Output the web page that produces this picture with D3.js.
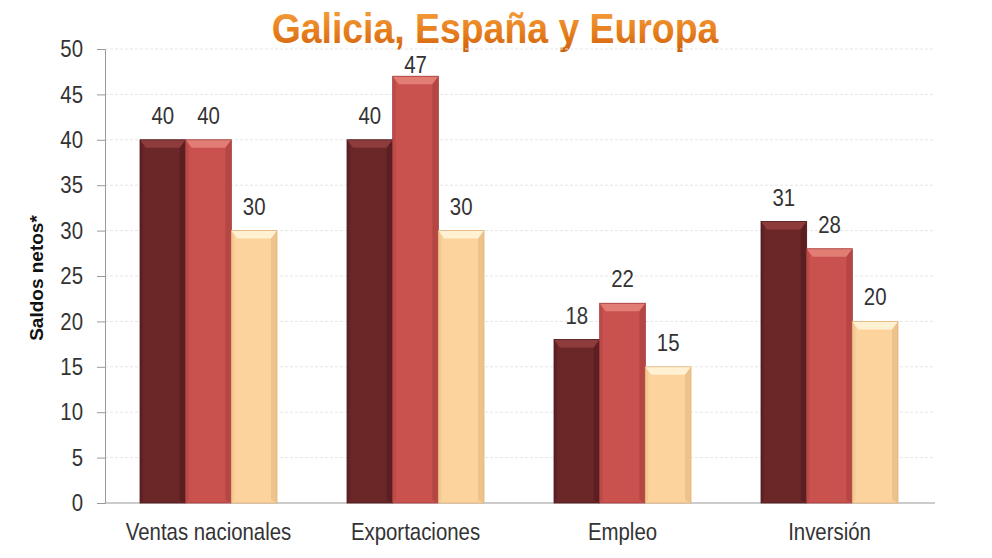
<!DOCTYPE html>
<html>
<head>
<meta charset="utf-8">
<script src="https://cdn.jsdelivr.net/npm/d3@7"></script>
<style>
  body { margin: 0; background: #fff; }
  text { font-family: "Liberation Sans", Arial, sans-serif; }
</style>
</head>
<body>
<svg width="992" height="558"></svg>
<script>
// chart data
const categories = ["Ventas nacionales", "Exportaciones", "Empleo", "Inversión"];
const seriesNames = ["Galicia", "España", "Europa"];
const galicia = [40, 40, 18, 31];
const espana = [40, 47, 22, 28];
const europa = [30, 30, 15, 20];
const yTicks = [0, 5, 10, 15, 20, 25, 30, 35, 40, 45, 50];

const colors = ["#6b2628", "#c9524f", "#fcd39d"];
const topColors = ["#8d3b3b", "#e27d74", "#fff1d2"];
const sides = ["#4e1a1c", "#a43d3b", "#e2b47c"];

const svg = d3.select("svg");
const plotLeft = 105, plotRight = 933, plotTop = 49, plotBottom = 503;
const squeeze = 0.85; // labels in the picture are horizontally compressed

const rows = categories.map((c, i) => ({cat: c, vals: [galicia[i], espana[i], europa[i]]}));

const x0 = d3.scaleBand().domain(categories).range([plotLeft, plotRight]);
const x1 = d3.scaleBand().domain(d3.range(3)).range([35, x0.bandwidth() - 35]);
const y = d3.scaleLinear().domain([0, 50]).range([plotBottom, plotTop]);

// title
const defs = svg.append("defs");
const tg = defs.append("linearGradient").attr("id", "tgrad").attr("x1", 0).attr("y1", 0).attr("x2", 0).attr("y2", 1);
tg.append("stop").attr("offset", "0%").attr("stop-color", "#f7a443");
tg.append("stop").attr("offset", "55%").attr("stop-color", "#e8801e");
tg.append("stop").attr("offset", "100%").attr("stop-color", "#cf620e");

svg.append("text")
    .attr("transform", "translate(495,43) scale(0.89,1)")
    .attr("text-anchor", "middle")
    .style("font-size", "42px").style("font-weight", "bold")
    .attr("fill", "url(#tgrad)")
    .text("Galicia, España y Europa");

// gridlines
svg.append("g").selectAll("line")
    .data(yTicks.filter(d => d > 0))
    .join("line")
    .attr("x1", plotLeft).attr("x2", plotRight + 2)
    .attr("y1", d => y(d)).attr("y2", d => y(d))
    .attr("stroke", "#e6e6e6").attr("stroke-dasharray", "3,2");

// y axis
const yAxis = svg.append("g")
    .attr("transform", `translate(${plotLeft},0)`)
    .call(d3.axisLeft(y).tickValues(yTicks).tickSize(8).tickPadding(14));
yAxis.select(".domain").attr("stroke", "#999");
yAxis.selectAll(".tick line").attr("stroke", "#999");
yAxis.selectAll(".tick text")
    .style("font-size", "24px").attr("fill", "#333")
    .attr("x", -22 / squeeze)
    .attr("transform", `scale(${squeeze},1)`);

// x baseline
svg.append("line")
    .attr("x1", plotLeft).attr("x2", plotRight + 2)
    .attr("y1", plotBottom).attr("y2", plotBottom)
    .attr("stroke", "#999");

svg.append("text")
    .attr("transform", `translate(43,278) rotate(-90)`)
    .attr("text-anchor", "middle")
    .style("font-size", "19px").style("font-weight", "bold")
    .attr("fill", "#111")
    .text("Saldos netos*");

// bars
const groups = svg.append("g").selectAll("g")
    .data(rows)
    .join("g")
    .attr("transform", d => `translate(${x0(d.cat)},0)`);

const bars = groups.selectAll("g.bar")
    .data(d => d.vals.map((v, k) => ({v, k})))
    .join("g").attr("class", "bar");

const bw = x1.bandwidth();
const bev = 6;

bars.append("rect")
    .attr("x", d => x1(d.k)).attr("y", d => y(d.v))
    .attr("width", bw).attr("height", d => plotBottom - y(d.v))
    .attr("fill", d => colors[d.k]);

// right side shade
bars.append("path")
    .attr("d", d => {
        const xa = x1(d.k) + bw, yt = y(d.v);
        return `M${xa},${yt} L${xa - bev},${yt + bev} L${xa - bev},${plotBottom - 3} L${xa},${plotBottom} Z`;
    })
    .attr("fill", d => sides[d.k]).attr("opacity", 0.55);

// left highlight
bars.append("path")
    .attr("d", d => {
        const xa = x1(d.k), yt = y(d.v);
        return `M${xa},${yt} L${xa + 3},${yt + bev} L${xa + 3},${plotBottom - 3} L${xa},${plotBottom} Z`;
    })
    .attr("fill", d => sides[d.k]).attr("opacity", 0.35);

// top bevel
bars.append("path")
    .attr("d", d => {
        const xa = x1(d.k), yt = y(d.v);
        return `M${xa},${yt} L${xa + bw},${yt} L${xa + bw - bev},${yt + bev + 2} L${xa + bev},${yt + bev + 2} Z`;
    })
    .attr("fill", d => topColors[d.k]);

bars.append("rect")
    .attr("x", d => x1(d.k)).attr("y", d => y(d.v))
    .attr("width", bw).attr("height", d => plotBottom - y(d.v))
    .attr("fill", "none").attr("stroke", d => sides[d.k]).attr("stroke-width", 0.8);

// value labels (the highest one is kept inside the plot area)
bars.append("text")
    .attr("transform", d => `translate(${x1(d.k) + bw / 2},${Math.max(y(d.v) - 16, y(50) + 24)}) scale(${squeeze},1)`)
    .attr("text-anchor", "middle")
    .style("font-size", "24px")
    .attr("fill", "#333")
    .text(d => d.v);

// category labels
svg.append("g").selectAll("text")
    .data(categories)
    .join("text")
    .attr("transform", d => `translate(${x0(d) + x0.bandwidth() / 2},540) scale(${squeeze},1)`)
    .attr("text-anchor", "middle")
    .style("font-size", "24px")
    .attr("fill", "#333")
    .text(d => d);
</script>
</body>
</html>
